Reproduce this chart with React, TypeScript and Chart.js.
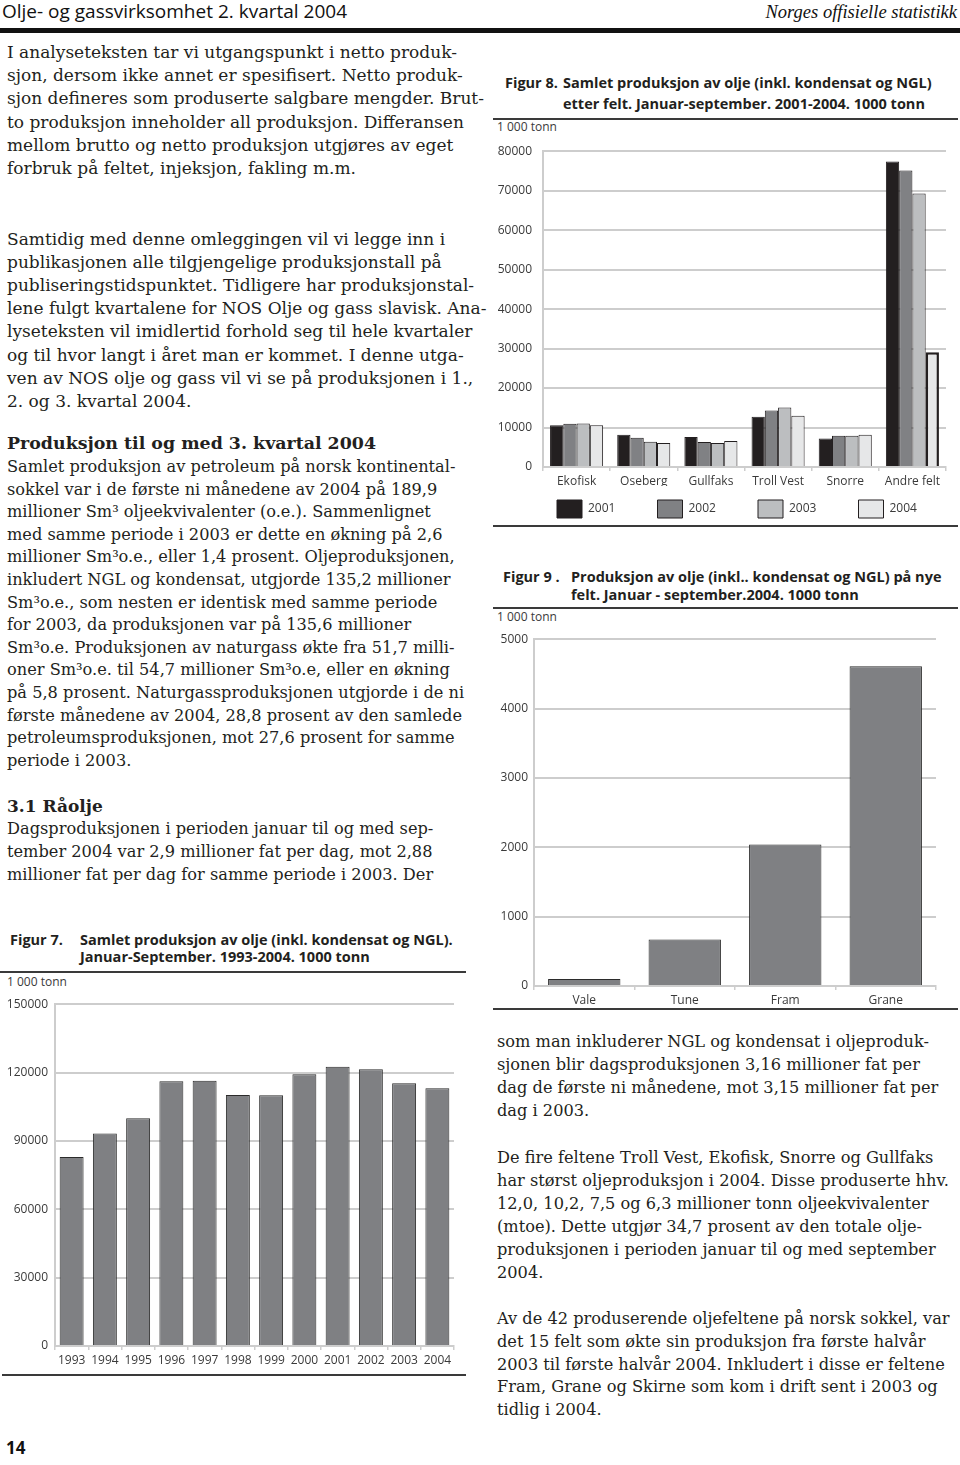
import React, { useEffect, useRef } from "react";
import { Chart, registerables } from "chart.js";

Chart.register(...registerables);

// ---------- DATA ----------
const fig7Years = ["1993", "1994", "1995", "1996", "1997", "1998", "1999", "2000", "2001", "2002", "2003", "2004"];
const fig7Values = [82900, 93300, 99900, 116200, 116400, 110200, 110000, 119300, 122500, 121400, 115300, 113100];
const fig7Ticks = [0, 30000, 60000, 90000, 120000, 150000];

const fig8Fields = ["Ekofisk", "Oseberg", "Gullfaks", "Troll Vest", "Snorre", "Andre felt"];
const fig8SeriesNames = ["2001", "2002", "2003", "2004"];
const fig8Y2001 = [10550, 8150, 7600, 12700, 7200, 77400];
const fig8Y2002 = [10950, 7400, 6350, 14300, 7900, 75100];
const fig8Y2003 = [11050, 6400, 6100, 15100, 7900, 69300];
const fig8Y2004 = [10600, 6100, 6600, 13000, 8200, 29100];
const fig8Ticks = [0, 10000, 20000, 30000, 40000, 50000, 60000, 70000, 80000];

const fig9Fields = ["Vale", "Tune", "Fram", "Grane"];
const fig9Values = [100, 670, 2040, 4610];
const fig9Ticks = [0, 1000, 2000, 3000, 4000, 5000];

// ---------- STYLE ----------
const chartFont = '"Open Sans", "Noto Sans", sans-serif';
const serif = '"DejaVu Serif", serif';
const textColor = "#231f20";
const tickColor = "#3a3a3a";
const gridColor = "#cdcdcd";
const barGray = "#7f8083";
const barEdge = "#2b2b2b";
const fig8Colors = ["#231f20", "#808184", "#bcbec0", "#e6e7e8"];

function yAxis(ticks: number[], width: number, pad: number) {
  const step = ticks[1] - ticks[0];
  return {
    min: ticks[0],
    max: ticks[ticks.length - 1],
    ticks: {
      stepSize: step,
      padding: pad,
      color: tickColor,
      font: { family: chartFont, size: 12 },
      callback: (v: any) => String(v),
    },
    grid: { color: gridColor, lineWidth: 2, drawTicks: false },
    border: { color: gridColor, width: 2 },
    afterFit: (s: any) => {
      s.width = width;
    },
  };
}

function xAxis(height: number) {
  return {
    ticks: {
      color: tickColor,
      font: { family: chartFont, size: 12 },
      padding: 3,
      autoSkip: false,
      maxRotation: 0,
    },
    grid: {
      display: true,
      drawOnChartArea: false,
      drawTicks: true,
      tickLength: 4,
      color: gridColor,
      lineWidth: 1.5,
      offset: true,
    },
    border: { color: gridColor, width: 2 },
    afterFit: (s: any) => {
      s.height = height;
    },
  };
}

function ChartCanvas(props: { left: number; top: number; width: number; height: number; make: () => any }) {
  const ref = useRef<HTMLCanvasElement>(null);
  useEffect(() => {
    const chart = new Chart(ref.current as HTMLCanvasElement, props.make());
    return () => chart.destroy();
  }, []);
  return (
    <canvas
      ref={ref}
      width={props.width}
      height={props.height}
      style={{ position: "absolute", left: props.left, top: props.top, width: props.width, height: props.height }}
    />
  );
}

const fig7Config = () => ({
  type: "bar",
  data: {
    labels: fig7Years,
    datasets: [
      {
        label: "1000 tonn",
        data: fig7Values,
        backgroundColor: barGray,
        borderColor: barEdge,
        borderWidth: 1,
        barPercentage: 0.72,
        categoryPercentage: 1,
      },
    ],
  },
  options: {
    responsive: false,
    animation: false,
    devicePixelRatio: 1,
    layout: { padding: { top: 10, right: 16, left: 0, bottom: 0 } },
    plugins: { legend: { display: false }, tooltip: { enabled: false } },
    scales: { x: xAxis(22), y: yAxis(fig7Ticks, 55, 7) },
  },
});

const fig8Config = () => {
  const series = [fig8Y2001, fig8Y2002, fig8Y2003, fig8Y2004];
  return {
    type: "bar",
    data: {
      labels: fig8Fields,
      datasets: series.map((d, i) => ({
        label: fig8SeriesNames[i],
        data: d,
        backgroundColor: fig8Colors[i],
        borderColor: "#231f20",
        borderWidth: i === 3 ? (c: any) => (c.type === "data" && c.dataIndex === 5 ? 2.5 : 1) : 1,
        barPercentage: 1,
        categoryPercentage: 0.79,
      })),
    },
    options: {
      responsive: false,
      animation: false,
      devicePixelRatio: 1,
      layout: { padding: { top: 10, right: 14, left: 0, bottom: 0 } },
      plugins: {
        tooltip: { enabled: false },
        legend: {
          display: true,
          position: "bottom",
          align: "start",
          fullSize: false,
          labels: {
            boxWidth: 25,
            boxHeight: 18,
            padding: 14,
            color: tickColor,
            font: { family: chartFont, size: 12 },
            generateLabels: (chart: any) => {
              const items = (Chart as any).defaults.plugins.legend.labels.generateLabels(chart);
              return items.map((it: any, i: number) => ({
                ...it,
                text: i < items.length - 1 ? it.text + "\u00a0".repeat(9) : it.text,
                lineWidth: 1,
              }));
            },
          },
        },
      },
      scales: { x: xAxis(19), y: yAxis(fig8Ticks, 63, 11) },
    },
  };
};

const fig9Config = () => ({
  type: "bar",
  data: {
    labels: fig9Fields,
    datasets: [
      {
        label: "1000 tonn",
        data: fig9Values,
        backgroundColor: barGray,
        borderColor: barEdge,
        borderWidth: 1,
        barPercentage: 0.72,
        categoryPercentage: 1,
      },
    ],
  },
  options: {
    responsive: false,
    animation: false,
    devicePixelRatio: 1,
    layout: { padding: { top: 10, right: 24, left: 0, bottom: 0 } },
    plugins: { legend: { display: false }, tooltip: { enabled: false } },
    scales: { x: xAxis(22), y: yAxis(fig9Ticks, 54, 6) },
  },
});

// ---------- TEXT ----------
const p1 = [
  "I analyseteksten tar vi utgangspunkt i netto produk-",
  "sjon, dersom ikke annet er spesifisert. Netto produk-",
  "sjon defineres som produserte salgbare mengder. Brut-",
  "to produksjon inneholder all produksjon. Differansen",
  "mellom brutto og netto produksjon utgjøres av eget",
  "forbruk på feltet, injeksjon, fakling m.m.",
];
const p2 = [
  "Samtidig med denne omleggingen vil vi legge inn i",
  "publikasjonen alle tilgjengelige produksjonstall på",
  "publiseringstidspunktet. Tidligere har produksjonstal-",
  "lene fulgt kvartalene for NOS Olje og gass slavisk. Ana-",
  "lyseteksten vil imidlertid forhold seg til hele kvartaler",
  "og til hvor langt i året man er kommet. I denne utga-",
  "ven av NOS olje og gass vil vi se på produksjonen i 1.,",
  "2. og 3. kvartal 2004.",
];
const p3 = [
  "Samlet produksjon av petroleum på norsk kontinental-",
  "sokkel var i de første ni månedene av 2004 på 189,9",
  "millioner Sm³ oljeekvivalenter (o.e.). Sammenlignet",
  "med samme periode i 2003 er dette en økning på 2,6",
  "millioner Sm³o.e., eller 1,4 prosent. Oljeproduksjonen,",
  "inkludert NGL og kondensat, utgjorde 135,2 millioner",
  "Sm³o.e., som nesten er identisk med samme periode",
  "for 2003, da produksjonen var på 135,6 millioner",
  "Sm³o.e. Produksjonen av naturgass økte fra 51,7 milli-",
  "oner Sm³o.e. til 54,7 millioner Sm³o.e, eller en økning",
  "på 5,8 prosent. Naturgassproduksjonen utgjorde i de ni",
  "første månedene av 2004, 28,8 prosent av den samlede",
  "petroleumsproduksjonen, mot 27,6 prosent for samme",
  "periode i 2003.",
];
const p4 = [
  "Dagsproduksjonen i perioden januar til og med sep-",
  "tember 2004 var 2,9 millioner fat per dag, mot 2,88",
  "millioner fat per dag for samme periode i 2003. Der",
];
const r1 = [
  "som man inkluderer NGL og kondensat i oljeproduk-",
  "sjonen blir dagsproduksjonen 3,16 millioner fat per",
  "dag de første ni månedene, mot 3,15 millioner fat per",
  "dag i 2003.",
];
const r2 = [
  "De fire feltene Troll Vest, Ekofisk, Snorre og Gullfaks",
  "har størst oljeproduksjon i 2004. Disse produserte hhv.",
  "12,0, 10,2, 7,5 og 6,3 millioner tonn oljeekvivalenter",
  "(mtoe). Dette utgjør 34,7 prosent av den totale olje-",
  "produksjonen i perioden januar til og med september",
  "2004.",
];
const r3 = [
  "Av de 42 produserende oljefeltene på norsk sokkel, var",
  "det 15 felt som økte sin produksjon fra første halvår",
  "2003 til første halvår 2004. Inkludert i disse er feltene",
  "Fram, Grane og Skirne som kom i drift sent i 2003 og",
  "tidlig i 2004.",
];

function Lines(props: { x: number; y: number; step: number; lines: string[]; size?: number; bold?: boolean; font?: string }) {
  const size = props.size ?? 16.2;
  return (
    <>
      {props.lines.map((t, i) => (
        <div
          key={i}
          style={{
            position: "absolute",
            left: props.x,
            top: props.y + i * props.step - 12,
            height: 24,
            lineHeight: "24px",
            fontSize: size,
            fontFamily: props.font ?? serif,
            fontWeight: props.bold ? 700 : 400,
            whiteSpace: "pre",
            color: textColor,
          }}
        >
          {t}
        </div>
      ))}
    </>
  );
}

function Txt(props: { x: number; y: number; text: string; size?: number; bold?: boolean; font?: string; color?: string; italic?: boolean }) {
  const size = props.size ?? 12;
  return (
    <div
      style={{
        position: "absolute",
        left: props.x,
        top: props.y - 12,
        height: 24,
        lineHeight: "24px",
        fontSize: size,
        fontFamily: props.font ?? chartFont,
        fontWeight: props.bold ? 700 : 400,
        fontStyle: props.italic ? "italic" : "normal",
        whiteSpace: "pre",
        color: props.color ?? tickColor,
      }}
    >
      {props.text}
    </div>
  );
}

function Rule(props: { x1: number; x2: number; y: number; h?: number; color?: string }) {
  return (
    <div
      style={{
        position: "absolute",
        left: props.x1,
        top: props.y,
        width: props.x2 - props.x1,
        height: props.h ?? 2,
        background: props.color ?? "#3a3a3a",
      }}
    />
  );
}

const titleSize = 14.5;

export default function App() {
  return (
    <div style={{ position: "relative", width: 960, height: 1465, overflow: "hidden", background: "#fff" }}>
      <style>{"body{margin:0}"}</style>

      {/* header */}
      <Txt x={2} y={11} text="Olje- og gassvirksomhet 2. kvartal 2004" size={19} color="#111" />
      <div
        style={{
          position: "absolute",
          right: 3,
          top: 0,
          height: 24,
          lineHeight: "24px",
          fontSize: 18.5,
          fontFamily: '"Liberation Serif", serif',
          fontStyle: "italic",
          color: "#111",
          whiteSpace: "pre",
        }}
      >
        Norges offisielle statistikk
      </div>
      <Rule x1={0} x2={960} y={28} h={5} color="#111" />

      {/* left column */}
      <Lines x={7} y={52} step={23.2} lines={p1} size={17} />
      <Lines x={7} y={239} step={23.1} lines={p2} size={17} />
      <Lines x={7} y={443} step={23} lines={["Produksjon til og med 3. kvartal 2004"]} bold size={17.4} />
      <Lines x={7} y={467} step={22.6} lines={p3} />
      <Lines x={7} y={806} step={23} lines={["3.1 Råolje"]} bold size={17} />
      <Lines x={7} y={829} step={23} lines={p4} />

      {/* Figure 7 */}
      <Txt x={10} y={940} text="Figur 7." size={titleSize} bold color={textColor} />
      <Txt x={80} y={940} text="Samlet produksjon av olje (inkl. kondensat og NGL)." size={titleSize} bold color={textColor} />
      <Txt x={80} y={957} text="Januar-September. 1993-2004. 1000 tonn" size={titleSize} bold color={textColor} />
      <Rule x1={0} x2={466} y={971} />
      <Txt x={7} y={982} text="1 000 tonn" />
      <ChartCanvas left={0} top={990} width={470} height={378} make={fig7Config} />
      <Rule x1={2} x2={466} y={1374} />

      {/* Figure 8 */}
      <Txt x={505} y={83} text="Figur 8." size={titleSize} bold color={textColor} />
      <Txt x={563} y={83} text="Samlet produksjon av olje (inkl. kondensat og NGL)" size={titleSize} bold color={textColor} />
      <Txt x={563} y={104} text="etter felt. Januar-september. 2001-2004. 1000 tonn" size={titleSize} bold color={textColor} />
      <Rule x1={493} x2={958} y={118} />
      <Txt x={497} y={127} text="1 000 tonn" />
      <ChartCanvas left={480} top={133} width={480} height={395} make={fig8Config} />
      <Rule x1={493} x2={958} y={525} />

      {/* Figure 9 */}
      <Txt x={503} y={577} text="Figur 9 ." size={titleSize} bold color={textColor} />
      <Txt x={571} y={577} text="Produksjon av olje (inkl.. kondensat og NGL) på nye" size={titleSize} bold color={textColor} />
      <Txt x={571} y={595} text="felt. Januar - september.2004. 1000 tonn" size={titleSize} bold color={textColor} />
      <Rule x1={493} x2={958} y={607} />
      <Txt x={497} y={617} text="1 000 tonn" />
      <ChartCanvas left={480} top={626} width={480} height={382} make={fig9Config} />
      <Rule x1={493} x2={958} y={1008} />

      {/* right column text */}
      <Lines x={497} y={1042} step={23} lines={r1} />
      <Lines x={497} y={1158} step={23} lines={r2} />
      <Lines x={497} y={1319} step={22.75} lines={r3} />

      {/* page number */}
      <Txt x={6} y={1448} text="14" size={17} bold color="#111" />
    </div>
  );
}
